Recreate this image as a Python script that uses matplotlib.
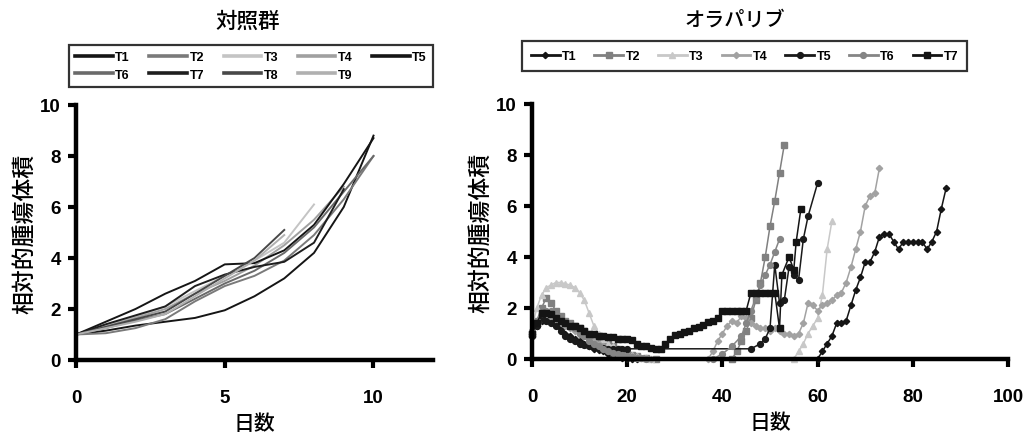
import matplotlib
matplotlib.use("Agg")
import matplotlib.pyplot as plt

# ---- control group (左): day 0..N, relative tumour volume
ctrl_names = ["T1", "T2", "T3", "T4", "T5", "T6", "T7", "T8", "T9"]
ctrl_vals = [
    [1.0, 1.15, 1.35, 1.5, 1.65, 1.95, 2.5, 3.2, 4.2, 6.0, 8.8],
    [1.0, 1.05, 1.25, 1.6, 2.3, 2.9, 3.3, 3.9, 4.9, 6.3, 8.0],
    [1.0, 1.35, 1.7, 2.1, 2.7, 3.3, 3.9, 4.6, 6.1],
    [1.0, 1.3, 1.65, 2.0, 2.6, 3.1, 3.7, 4.5, 5.5, 6.8],
    [1.0, 1.5, 2.0, 2.6, 3.1, 3.75, 3.8, 4.3, 5.3, 6.9, 8.7],
    [1.0, 1.25, 1.55, 1.8, 2.4, 3.0, 3.5, 4.2, 5.2, 6.6, 8.0],
    [1.0, 1.4, 1.75, 2.1, 2.9, 3.35, 3.65, 3.85, 4.6, 6.7],
    [1.0, 1.3, 1.6, 1.9, 2.6, 3.3, 4.0, 5.1],
    [1.0, 1.25, 1.5, 1.8, 2.5, 3.2, 3.9, 4.9],
]
ctrl_colors = ["#151515", "#7a7a7a", "#c4c4c4", "#a0a0a0", "#151515",
               "#6a6a6a", "#1e1e1e", "#484848", "#b0b0b0"]

# ---- olaparib (右)
ola_names = ["T1", "T2", "T3", "T4", "T5", "T6", "T7"]
ola_days = [
    list(range(0, 23)) + list(range(60, 88)),
    list(range(0, 23)) + [24, 26] + list(range(42, 54)),
    list(range(0, 26)) + list(range(55, 64)),
    list(range(0, 26)) + list(range(37, 74)),
    list(range(0, 21)) + [46, 48, 49, 50, 51, 52, 53, 54, 55, 56, 57, 58, 60],
    list(range(0, 25)) + [38, 40, 42, 44, 45, 46, 47, 48, 49, 50, 51, 52],
    list(range(0, 52)) + [52, 52.5, 54, 55, 55.5, 56.5],
]
ola_vals = [
    [1.0, 1.3, 1.5, 1.6, 1.5, 1.4, 1.2, 1.0, 0.9, 0.8, 0.7, 0.6, 0.5, 0.4, 0.35, 0.3,
     0.2, 0.15, 0.1, 0.05, 0.0, 0.0, 0.0,
     0.0, 0.3, 0.6, 0.9, 1.4, 1.4, 1.5, 2.1, 2.7, 3.2, 3.8, 3.8, 4.2, 4.8, 4.9, 4.9,
     4.6, 4.3, 4.6, 4.6, 4.6, 4.6, 4.6, 4.3, 4.6, 5.0, 5.9, 6.7],
    [1.0, 1.5, 2.0, 2.4, 2.2, 1.9, 1.7, 1.5, 1.4, 1.3, 1.2, 1.1, 1.0, 0.9, 0.8, 0.7,
     0.6, 0.5, 0.4, 0.3, 0.2, 0.15, 0.1, 0.05, 0.0,
     0.0, 0.3, 0.7, 1.1, 1.6, 2.3, 3.0, 4.0, 5.2, 6.2, 7.3, 8.4],
    [1.2, 2.0, 2.5, 2.8, 2.9, 3.0, 3.0, 2.95, 2.9, 2.8, 2.6, 2.3, 1.8, 1.3, 1.0, 0.8,
     0.6, 0.5, 0.4, 0.3, 0.2, 0.15, 0.1, 0.05, 0.02, 0.0,
     0.0, 0.3, 0.6, 1.0, 1.3, 1.6, 2.5, 4.3, 5.4],
    [1.0, 1.4, 1.6, 1.7, 1.6, 1.5, 1.4, 1.3, 1.2, 1.1, 1.0, 0.9, 0.8, 0.7, 0.6, 0.5,
     0.4, 0.3, 0.25, 0.2, 0.15, 0.1, 0.08, 0.05, 0.02, 0.0,
     0.0, 0.3, 0.7, 1.0, 1.3, 1.5, 1.4, 1.7, 1.6, 1.4, 1.3, 1.2, 1.2, 1.1, 1.2, 1.1,
     1.0, 1.0, 0.9, 1.0, 1.4, 2.2, 2.1, 1.9, 2.1, 2.2, 2.3, 2.5, 2.6, 3.0, 3.6, 4.3,
     5.0, 6.0, 6.4, 6.5, 7.5],
    [0.9, 1.3, 1.6, 1.5, 1.4, 1.3, 1.1, 0.9, 0.8, 0.7, 0.6, 0.55, 0.5, 0.5, 0.45, 0.45,
     0.4, 0.4, 0.4, 0.4, 0.4,
     0.4, 0.6, 0.8, 1.2, 3.7, 2.2, 2.3, 3.6, 3.3, 3.1, 4.7, 5.6, 6.9],
    [1.1, 1.5, 1.8, 1.9, 1.9, 1.7, 1.5, 1.4, 1.3, 1.2, 1.0, 0.9, 0.7, 0.6, 0.5, 0.4,
     0.3, 0.25, 0.2, 0.15, 0.1, 0.08, 0.05, 0.02, 0.0,
     0.0, 0.2, 0.5, 0.9, 1.4, 1.9, 2.4, 2.9, 3.3, 3.7, 4.2, 4.7],
    [1.0, 1.4, 1.8, 1.8, 1.75, 1.6, 1.5, 1.4, 1.3, 1.3, 1.2, 1.1, 1.0, 1.0, 0.9, 0.9,
     0.85, 0.85, 0.8, 0.8, 0.8, 0.75, 0.6, 0.5, 0.5, 0.45, 0.4, 0.4,
     0.6, 0.8, 0.95, 1.0, 1.05, 1.1, 1.2, 1.25, 1.35, 1.45, 1.5, 1.6, 1.9, 1.9, 1.9,
     1.9, 1.9, 1.9, 2.6, 2.6, 2.6, 2.6, 2.6, 2.6,
     1.2, 3.3, 4.0, 3.5, 4.6, 5.9],
]
ola_colors = ["#151515", "#808080", "#c8c8c8", "#a2a2a2", "#1a1a1a", "#858585", "#141414"]
ola_markers = ["D", "s", "^", "D", "o", "o", "s"]
ola_msize = [3.2, 4.4, 4.2, 3.2, 4.2, 4.2, 5.0]

jp = ["Noto Sans CJK JP", "DejaVu Sans"]
leg_font = dict(family="Liberation Sans", weight="bold", size=9)

fig = plt.figure(figsize=(10.27, 4.39), dpi=100)
W, H = 1027, 439


def style_axes(ax, xticks):
    for s in ["top", "right"]:
        ax.spines[s].set_visible(False)
    for s in ["left", "bottom"]:
        ax.spines[s].set_linewidth(3.2)
    ax.set_xticks(xticks)
    ax.set_yticks([0, 2, 4, 6, 8, 10])
    ax.tick_params(axis="x", direction="out", length=6, width=3, pad=15, labelsize=13.5)
    ax.tick_params(axis="y", direction="out", length=6, width=3, pad=5, labelsize=13.5)
    for lab in ax.get_xticklabels() + ax.get_yticklabels():
        lab.set_fontfamily("Liberation Sans")
        lab.set_fontweight("bold")
    ax.set_ylabel("相対的腫瘍体積", family=jp, fontsize=16.5, weight="medium",
                  labelpad=3)
    ax.set_xlabel("日数", family=jp, fontsize=15, weight="medium", labelpad=4)


# left panel
ax1 = fig.add_axes([76 / W, 1 - 361 / H, 357 / W, 255 / H])
for name, vals, c in zip(ctrl_names, ctrl_vals, ctrl_colors):
    ax1.plot(range(len(vals)), vals, color=c, lw=1.4, label=name)
ax1.set_xlim(0, 12)
ax1.set_ylim(0, 10)
style_axes(ax1, [0, 5, 10])
fig.text(248 / W, 1 - 22 / H, "対照群", family=jp, fontsize=15.5,
         weight="medium", ha="center", va="center")

h, l = ax1.get_legend_handles_labels()
order = [0, 5, 1, 6, 2, 7, 3, 8, 4]
leg1 = ax1.legend([h[i] for i in order], [l[i] for i in order], ncol=5,
                  loc="center", bbox_to_anchor=(69 / W, 1 - 93 / H, 364 / W, 52 / H),
                  bbox_transform=fig.transFigure, mode="expand", frameon=True,
                  fancybox=False, edgecolor="black", handlelength=3.0,
                  handletextpad=0.2, labelspacing=0.45, borderpad=0.5,
                  borderaxespad=0, prop=leg_font)
leg1.get_frame().set_linewidth(1.6)
for ln in leg1.get_lines():
    ln.set_linewidth(2.6)

# right panel
ax2 = fig.add_axes([532 / W, 1 - 360 / H, 476 / W, 255 / H])
for name, d, v, c, m, ms in zip(ola_names, ola_days, ola_vals, ola_colors,
                                ola_markers, ola_msize):
    ax2.plot(d, v, color=c, lw=1.1, marker=m, markersize=ms, label=name,
             clip_on=False)
ax2.set_xlim(0, 100)
ax2.set_ylim(0, 10)
style_axes(ax2, [0, 20, 40, 60, 80, 100])
fig.text(735 / W, 1 - 20 / H, "オラパリブ", family=jp, fontsize=14.5,
         weight="medium", ha="center", va="center")

leg2 = ax2.legend(ncol=7, loc="center",
                  bbox_to_anchor=(522 / W, 1 - 76 / H, 445 / W, 38 / H),
                  bbox_transform=fig.transFigure, mode="expand", frameon=True,
                  fancybox=False, edgecolor="black", handlelength=2.3,
                  handletextpad=0.2, borderpad=0.7, borderaxespad=0,
                  prop=leg_font)
leg2.get_frame().set_linewidth(1.6)
for ln in leg2.get_lines():
    ln.set_linewidth(2.0)

fig.savefig("out.png", dpi=100, facecolor="white")
